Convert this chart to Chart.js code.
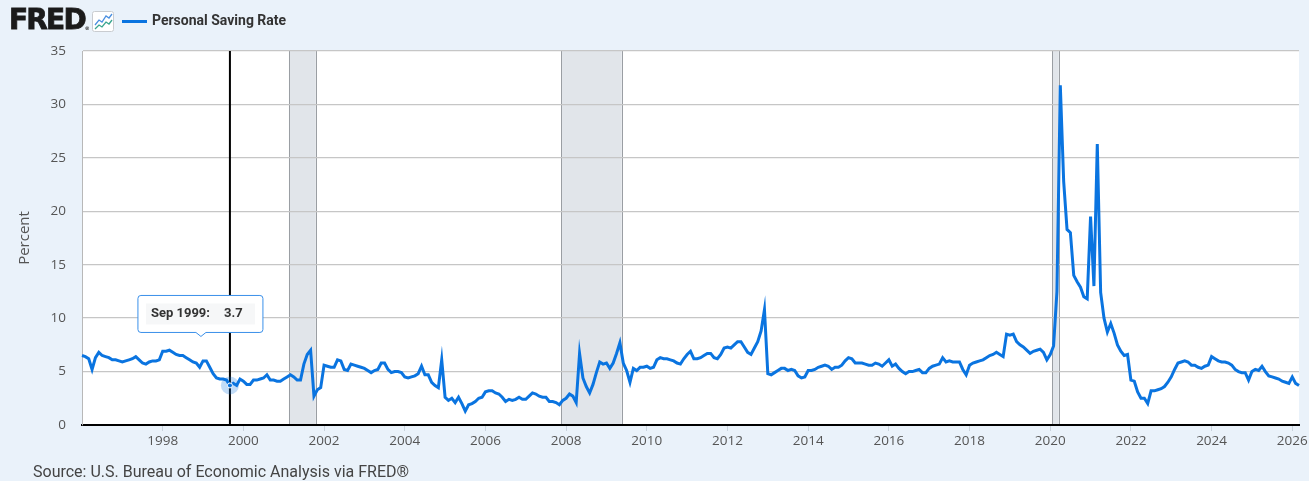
<!DOCTYPE html>
<html>
<head>
<meta charset="utf-8">
<script src="https://cdn.jsdelivr.net/npm/chart.js@4.4.1/dist/chart.umd.min.js"></script>
<style>
  html, body { margin: 0; padding: 0; background: #eaf2fa; }
  #wrap { position: relative; width: 1309px; height: 481px; overflow: hidden; background: #eaf2fa; }
  #chart { position: absolute; left: 0; top: 0; }
  #logo { position: absolute; left: 9px; top: 5px; font: bold 28px 'DejaVu Sans', sans-serif; letter-spacing: -1.8px; color: #1b1b1b; line-height: 30px; -webkit-text-stroke: 0.8px #1b1b1b; }
  #logo sup { font-size: 5px; letter-spacing: 0; vertical-align: -1px; -webkit-text-stroke: 0; }
  #icon { position: absolute; left: 92px; top: 11px; }
  #legendLine { position: absolute; left: 122px; top: 20px; width: 25px; height: 3px; background: #0a74e0; }
  #legendText { position: absolute; left: 152px; top: 12px; font: bold 14px Roboto, sans-serif; color: #333; }
  #source { position: absolute; left: 33px; top: 462px; font: 16px Roboto, sans-serif; color: #444; }
</style>
</head>
<body>
<div id="wrap">
  <canvas id="chart" width="1309" height="481"></canvas>
  <div id="logo">FRED<sup>®</sup></div>
  <svg id="icon" width="22" height="21" viewBox="0 0 22 21">
    <rect x="0.5" y="0.5" width="21" height="20" rx="2" fill="#fff" stroke="#c9ccd0"/>
    <polyline points="3,14 7,9 10,11 14,5 17,7 20,3" fill="none" stroke="#4a8fe0" stroke-width="1.3"/>
    <polyline points="3,18 7,14 10,16 14,11 17,13 20,9" fill="none" stroke="#3aa58f" stroke-width="1.3"/>
  </svg>
  <div id="legendLine"></div>
  <div id="legendText">Personal Saving Rate</div>
  <div id="source">Source: U.S. Bureau of Economic Analysis via FRED®</div>
</div>
<script>
var firstYear = 1996;
var monthNames = ['Jan', 'Feb', 'Mar', 'Apr', 'May', 'Jun', 'Jul', 'Aug', 'Sep', 'Oct', 'Nov', 'Dec'];

// monthly values, percent, Jan 1996 onwards
var savingRate = [
  6.5, 6.4, 6.2, 5.2, 6.3, 6.8, 6.5, 6.4, 6.3, 6.1, 6.1, 6.0,      // 1996
  5.9, 6.0, 6.1, 6.2, 6.4, 6.1, 5.8, 5.7, 5.9, 6.0, 6.0, 6.1,      // 1997
  6.9, 6.9, 7.0, 6.8, 6.6, 6.5, 6.5, 6.3, 6.1, 5.9, 5.8, 5.4,      // 1998
  6.0, 6.0, 5.4, 4.8, 4.4, 4.3, 4.3, 4.2, 3.7, 3.9, 3.7, 4.3,      // 1999
  4.1, 3.8, 3.8, 4.2, 4.2, 4.3, 4.4, 4.7, 4.2, 4.2, 4.1, 4.1,      // 2000
  4.3, 4.5, 4.7, 4.5, 4.2, 4.2, 5.7, 6.6, 7.0, 2.7, 3.3, 3.5,      // 2001
  5.6, 5.5, 5.4, 5.4, 6.1, 6.0, 5.2, 5.1, 5.7, 5.6, 5.5, 5.4,      // 2002
  5.3, 5.1, 4.9, 5.1, 5.2, 5.8, 5.8, 5.2, 4.9, 5.0, 5.0, 4.9,      // 2003
  4.5, 4.4, 4.5, 4.6, 4.8, 5.5, 4.7, 4.7, 4.0, 3.7, 3.5, 6.1,      // 2004
  2.6, 2.3, 2.5, 2.1, 2.6, 2.0, 1.3, 1.9, 2.0, 2.2, 2.5, 2.6,      // 2005
  3.1, 3.2, 3.2, 3.0, 2.9, 2.6, 2.2, 2.4, 2.3, 2.4, 2.6, 2.4,      // 2006
  2.4, 2.7, 3.0, 2.9, 2.7, 2.6, 2.6, 2.2, 2.2, 2.1, 1.9, 2.3,      // 2007
  2.5, 2.9, 2.7, 2.1, 6.7, 4.4, 3.6, 3.0, 3.8, 4.9, 5.9, 5.7,      // 2008
  5.8, 5.3, 5.8, 6.7, 7.7, 5.8, 5.1, 4.0, 5.3, 5.1, 5.4, 5.4,      // 2009
  5.5, 5.3, 5.4, 6.1, 6.3, 6.2, 6.2, 6.1, 6.0, 5.8, 5.7, 6.2,      // 2010
  6.6, 6.9, 6.2, 6.2, 6.3, 6.5, 6.7, 6.7, 6.3, 6.2, 6.6, 7.2,      // 2011
  7.3, 7.2, 7.5, 7.8, 7.8, 7.3, 6.8, 6.6, 7.2, 7.8, 8.8, 10.8,     // 2012
  4.8, 4.7, 4.9, 5.1, 5.3, 5.3, 5.1, 5.2, 5.1, 4.6, 4.4, 4.5,      // 2013
  5.1, 5.1, 5.2, 5.4, 5.5, 5.6, 5.5, 5.2, 5.4, 5.4, 5.6, 6.0,      // 2014
  6.3, 6.2, 5.8, 5.8, 5.8, 5.7, 5.6, 5.6, 5.8, 5.7, 5.5, 5.8,      // 2015
  6.1, 5.5, 5.7, 5.3, 5.0, 4.8, 5.0, 5.0, 5.1, 5.2, 4.9, 4.9,      // 2016
  5.3, 5.5, 5.6, 5.7, 6.3, 5.9, 6.0, 5.9, 5.9, 5.9, 5.2, 4.7,      // 2017
  5.6, 5.8, 5.9, 6.0, 6.1, 6.3, 6.5, 6.6, 6.8, 6.6, 6.4, 8.5,      // 2018
  8.4, 8.5, 7.8, 7.5, 7.3, 7.0, 6.7, 6.9, 7.0, 7.1, 6.8, 6.1,      // 2019
  6.6, 7.4, 12.5, 31.8, 22.8, 18.3, 18.0, 14.0, 13.4, 12.9, 12.0, 11.8, // 2020
  19.5, 13.0, 26.3, 12.4, 10.0, 8.7, 9.5, 8.6, 7.5, 6.9, 6.5, 6.6, // 2021
  4.2, 4.1, 3.1, 2.5, 2.5, 2.0, 3.2, 3.2, 3.3, 3.4, 3.6, 4.0,      // 2022
  4.5, 5.2, 5.8, 5.9, 6.0, 5.9, 5.6, 5.6, 5.4, 5.3, 5.5, 5.6,      // 2023
  6.4, 6.2, 6.0, 5.9, 5.9, 5.8, 5.6, 5.2, 5.0, 4.9, 4.9, 4.2,      // 2024
  5.0, 5.2, 5.1, 5.5, 5.0, 4.6, 4.5, 4.4, 4.3, 4.1, 4.0, 3.9,      // 2025
  4.5, 3.9, 3.7                                                    // 2026
];

var yearTicks = ['1998', '2000', '2002', '2004', '2006', '2008', '2010', '2012', '2014', '2016', '2018', '2020', '2022', '2024', '2026'];
var yTicks = [0, 5, 10, 15, 20, 25, 30, 35];
var recessionStart = ['Mar 2001', 'Dec 2007', 'Feb 2020'];
var recessionEnd = ['Nov 2001', 'Jun 2009', 'Apr 2020'];
var hoverMonth = 'Sep 1999';

var LINE_COLOR = '#0a74e0';

var monthLabels = savingRate.map(function (v, i) {
  return monthNames[i % 12] + ' ' + (firstYear + Math.floor(i / 12));
});

function yearLabel(index) {
  var lab = monthLabels[index];
  if (lab.indexOf('Jan') === 0 && yearTicks.indexOf(lab.slice(4)) >= 0) return lab.slice(4);
  return '';
}

// white plot area + recession bars under the grid, crosshair and tooltip on top
var backdrop = {
  id: 'backdrop',
  beforeDraw: function (chart) {
    var ctx = chart.ctx, a = chart.chartArea, x = chart.scales.x;
    ctx.save();
    ctx.fillStyle = '#ffffff';
    ctx.fillRect(a.left, a.top, a.right - a.left, a.bottom - a.top);
    recessionStart.forEach(function (s, i) {
      var x0 = x.getPixelForValue(monthLabels.indexOf(s)) - 1.5;
      var x1 = x.getPixelForValue(monthLabels.indexOf(recessionEnd[i])) - 1.5;
      ctx.fillStyle = '#e1e5ea';
      ctx.fillRect(x0, a.top, x1 - x0, a.bottom - a.top);
      ctx.strokeStyle = '#9a9ea3';
      ctx.lineWidth = 1;
      ctx.beginPath();
      ctx.moveTo(Math.round(x0) + 0.5, a.top); ctx.lineTo(Math.round(x0) + 0.5, a.bottom);
      ctx.moveTo(Math.round(x1) + 0.5, a.top); ctx.lineTo(Math.round(x1) + 0.5, a.bottom);
      ctx.stroke();
    });
    ctx.restore();
  },
  beforeDatasetsDraw: function (chart) {
    var ctx = chart.ctx, a = chart.chartArea;
    var idx = monthLabels.indexOf(hoverMonth);
    var px = chart.scales.x.getPixelForValue(idx);
    ctx.save();
    ctx.strokeStyle = '#000';
    ctx.lineWidth = 2;
    ctx.beginPath();
    ctx.moveTo(px, a.top);
    ctx.lineTo(px, a.bottom);
    ctx.stroke();
    ctx.restore();
  },
  afterDraw: function (chart) {
    var ctx = chart.ctx;
    var idx = monthLabels.indexOf(hoverMonth);
    var val = savingRate[idx];
    var px = chart.scales.x.getPixelForValue(idx);
    var py = chart.scales.y.getPixelForValue(val);
    ctx.save();
    // hover halo
    ctx.fillStyle = 'rgba(10,116,224,0.25)';
    ctx.beginPath(); ctx.arc(px, py, 9, 0, Math.PI * 2); ctx.fill();
    ctx.fillStyle = LINE_COLOR;
    ctx.strokeStyle = '#fff';
    ctx.lineWidth = 1;
    ctx.beginPath(); ctx.arc(px, py, 2.5, 0, Math.PI * 2); ctx.fill(); ctx.stroke();

    // tooltip box
    var tipX = px - 29, tipY = py - 49;
    var bx = tipX - 63, by = tipY - 41, bw = 125, bh = 37;
    ctx.beginPath();
    ctx.moveTo(bx + 3, by);
    ctx.lineTo(bx + bw - 3, by);
    ctx.quadraticCurveTo(bx + bw, by, bx + bw, by + 3);
    ctx.lineTo(bx + bw, by + bh - 3);
    ctx.quadraticCurveTo(bx + bw, by + bh, bx + bw - 3, by + bh);
    ctx.lineTo(tipX + 5, by + bh);
    ctx.lineTo(tipX, tipY);
    ctx.lineTo(tipX - 5, by + bh);
    ctx.lineTo(bx + 3, by + bh);
    ctx.quadraticCurveTo(bx, by + bh, bx, by + bh - 3);
    ctx.lineTo(bx, by + 3);
    ctx.quadraticCurveTo(bx, by, bx + 3, by);
    ctx.closePath();
    ctx.fillStyle = '#ffffff';
    ctx.fill();
    ctx.strokeStyle = '#3a90ea';
    ctx.lineWidth = 1;
    ctx.stroke();
    ctx.fillStyle = '#f6f7f8';
    ctx.fillRect(bx + 8, by + 8, bw - 16, bh - 16);
    ctx.fillStyle = '#333';
    ctx.font = 'bold 13px Roboto, sans-serif';
    ctx.textBaseline = 'middle';
    ctx.fillText(hoverMonth + ':', bx + 13, by + bh / 2);
    ctx.fillText(val.toFixed(1), bx + 86, by + bh / 2);
    ctx.restore();
  }
};

new Chart(document.getElementById('chart'), {
  type: 'line',
  plugins: [backdrop],
  data: {
    labels: monthLabels,
    datasets: [{
      label: 'Personal Saving Rate',
      data: savingRate,
      borderColor: LINE_COLOR,
      borderWidth: 3,
      pointRadius: 0,
      tension: 0,
      fill: false
    }]
  },
  options: {
    responsive: false,
    animation: false,
    events: [],
    layout: { padding: { left: 0, top: 51, right: 10, bottom: 0 } },
    plugins: { legend: { display: false }, tooltip: { enabled: false } },
    scales: {
      x: {
        type: 'category',
        offset: false,
        afterFit: function (s) { s.height = 56; },
        border: { display: true, color: '#000', width: 2 },
        grid: {
          drawOnChartArea: false,
          tickLength: 6,
          color: function (c) { return c.tick && c.tick.label ? '#c9d3dd' : 'rgba(0,0,0,0)'; }
        },
        ticks: {
          autoSkip: false,
          maxRotation: 0,
          minRotation: 0,
          padding: 2,
          color: '#555',
          font: { family: 'Open Sans', size: 13.5 },
          callback: function (value, index) { return yearLabel(index); }
        }
      },
      y: {
        min: 0,
        max: 35,
        afterFit: function (s) { s.width = 82; },
        afterBuildTicks: function (s) { s.ticks = yTicks.map(function (v) { return { value: v }; }); },
        border: { display: true, color: '#b8b8b8', width: 1 },
        grid: { color: '#c6c6c6', lineWidth: 1.3, drawTicks: false },
        ticks: {
          padding: 16,
          color: '#555',
          font: { family: 'Open Sans', size: 13.5 }
        },
        title: {
          display: true,
          text: 'Percent',
          color: '#555',
          font: { family: 'Open Sans', size: 15 },
          padding: { top: 16, bottom: 0 }
        }
      }
    }
  }
});
</script>
</body>
</html>
